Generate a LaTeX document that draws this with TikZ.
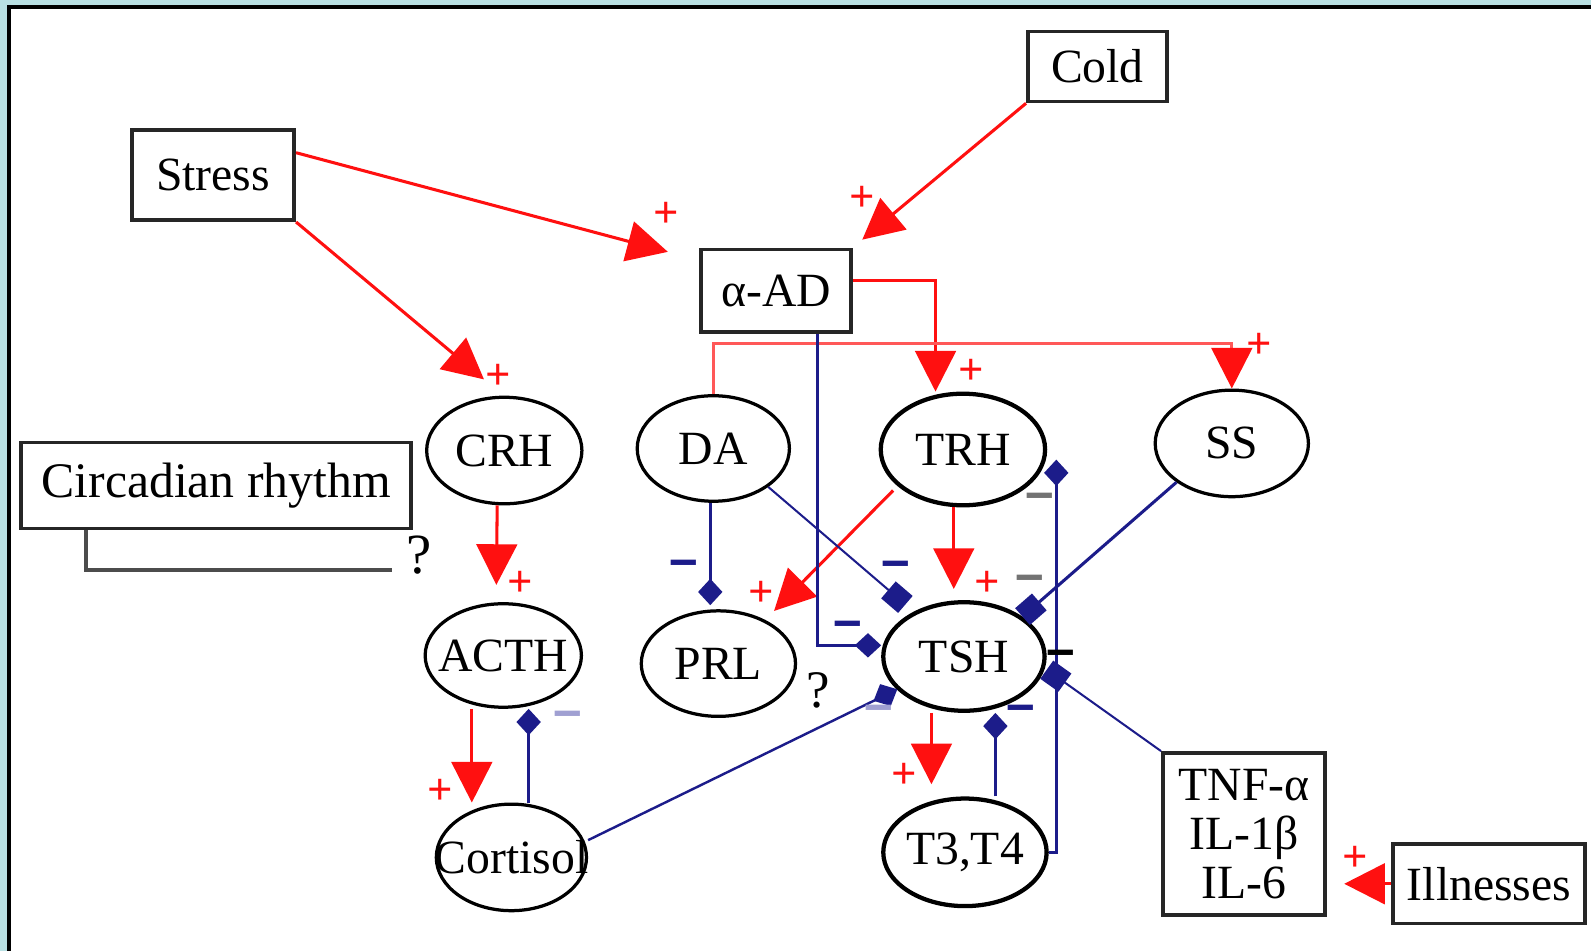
\documentclass[tikz,border=0pt]{standalone}
\usepackage{fontspec}
\setmainfont{Liberation Serif}
\usetikzlibrary{arrows.meta,shapes.geometric}
\definecolor{bgcyan}{RGB}{185,224,227}
\definecolor{inh}{RGB}{28,28,138}
\definecolor{act}{RGB}{255,16,16}
\definecolor{lav}{RGB}{160,160,210}
\newcommand{\ztext}[1]{\makebox[0pt]{#1}}
\newcommand{\fatdash}{\scalebox{1.1}[1.7]{–}}
\begin{document}
\begin{tikzpicture}[x=0.5pt,y=-0.5pt,
  lbl/.style={font=\fontsize{23.5}{24}\selectfont, inner sep=0pt},
  box/.style={lbl, draw=black!85, line width=1.8pt, rectangle},
  ell/.style={lbl, draw=black, line width=1.6pt, ellipse, inner sep=0pt},
  ellb/.style={ell, line width=2.1pt},
  actarrow/.style={draw=act, line width=1.5pt, -{Triangle[length=20pt,width=20pt,color=act]}},
  inhd/.style={draw=inh, line width=1.5pt, -{Diamond[length=13pt,width=12pt]}},
  inhs/.style={draw=inh, line width=1pt, -{Square[length=11pt,width=11pt]}},
  plus/.style={text=act, font=\fontsize{22}{22}\selectfont\bfseries, inner sep=0pt},
  minus/.style={text=inh, font=\fontsize{22}{22}\selectfont\bfseries, inner sep=0pt},
]
\useasboundingbox (0,0) rectangle (1568,937);
\fill[white] (0,0) rectangle (1568,937);
\fill[bgcyan] (0,0) rectangle (6.9,937);
\fill[bgcyan] (0,0) rectangle (1568,4.9);
\fill[black] (6.9,4.9) rectangle (10.8,937);
\fill[black] (6.9,4.9) rectangle (1568,8.9);

% boxes
\node[box, minimum width=68.5pt, minimum height=34.5pt] (Cold) at (1081.5,65.5) {Cold};
\node[box, minimum width=80pt, minimum height=44.5pt] (Stress) at (210,172.5) {Stress};
\node[box, minimum width=74pt, minimum height=40.5pt] (aAD) at (765,286.5) {α-AD};
\node[box, minimum width=192pt, minimum height=42.5pt, font=\fontsize{24.5}{26}\selectfont] (Circ) at (213,478.5) {Circadian rhythm};
\node[box, minimum width=80pt, minimum height=80pt, align=center] (TNF) at (1226,822) {TNF-α\\IL-1β\\IL-6};
\node[box, minimum width=94.5pt, minimum height=39pt] (Ill) at (1467.5,871) {Illnesses};

% ellipses
\node[ell, minimum width=76.5pt, minimum height=52.5pt] (CRH) at (497,444) {\ztext{CRH}};
\node[ell, minimum width=75pt, minimum height=52pt] (DA) at (703,442) {\ztext{DA}};
\node[ellb, minimum width=81pt, minimum height=55pt] (TRH) at (949,443) {\ztext{TRH}};
\node[ell, minimum width=75.5pt, minimum height=52.5pt] (SS) at (1214,437) {\ztext{SS}};
\node[ell, minimum width=77pt, minimum height=51pt] (ACTH) at (496,646) {\ztext{ACTH}};
\node[ell, minimum width=76pt, minimum height=52pt] (PRL) at (708,654) {\ztext{PRL}};
\node[ellb, minimum width=79.5pt, minimum height=53.5pt] (TSH) at (950,647) {\ztext{TSH}};
\node[ell, minimum width=74pt, minimum height=52.5pt] (Cortisol) at (504,845) {\ztext{Cortisol}};
\node[ellb, minimum width=80.5pt, minimum height=53pt] (T3T4) at (951,840) {\ztext{T3,T4}};

% bracket under circadian rhythm
\draw[draw=black!70, line width=2pt] ([xshift=33pt]Circ.south west) -- ++(0,-19.5pt) -- ++(150.5pt,0);

% activating connectors
\draw[actarrow] ([yshift=11pt]Stress.east) -- ([xshift=-15.5pt,yshift=-2pt]aAD.north west);
\draw[actarrow] (Stress.south east) -- ([xshift=-10pt,yshift=8pt]CRH.north);
\draw[actarrow] (Cold.south west) -- ([xshift=4.5pt,yshift=4pt]aAD.north east);
\draw[actarrow] ([yshift=5.25pt]aAD.east) -| ([xshift=-13.5pt]TRH.north);
\draw[actarrow, draw=act!70] (DA.north) -- ++(0,25pt) -| (SS.north);
\draw[actarrow, shorten >=8.5pt] ([xshift=-3.5pt]CRH.south) -- ([xshift=-3.5pt]ACTH.north);
\draw[actarrow] ([xshift=-15.5pt]ACTH.south) -- ([xshift=-19.5pt]Cortisol.north);
\draw[actarrow, shorten >=5.5pt] ([xshift=-4.5pt]TRH.south) -- ([xshift=-5pt]TSH.north);
\draw[actarrow] ([xshift=-5pt]TRH.south west) -- ([yshift=7pt]PRL.north east);
\draw[actarrow, shorten >=6pt] ([xshift=-16pt]TSH.south) -- ([xshift=-16.5pt]T3T4.north);
\draw[actarrow, shorten >=8.5pt] (Ill.west) -- (Ill.west -| TNF.east);

% inhibitory connectors
\draw[inhd] ([xshift=8.5pt]Cortisol.north) -- ([xshift=12.5pt]ACTH.south);
\draw[inhd, shorten >=2pt] ([xshift=-1.5pt]DA.south) -- ([xshift=-4pt]PRL.north);
\draw[inhs] (DA.south east) -- ([yshift=6pt]TSH.north west);
\draw[inhd] ([xshift=20.5pt]aAD.south) |- ([yshift=5.5pt]TSH.west);
\draw[inhs, line width=1.5pt] (SS.south west) -- (TSH.north east);
\draw[inhd] (T3T4.east) -| ([xshift=46pt,yshift=-5pt]TRH.center);
\draw[inhd] ([xshift=15pt]T3T4.north) -- ([xshift=15.5pt]TSH.south);
\draw[inhd, line width=1.2pt] ([yshift=8.5pt]Cortisol.east) -- ([xshift=-4pt,yshift=3.5pt]TSH.south west);
\draw[inhs] (TNF.north west) -- ([yshift=-6.5pt]TSH.east);

% question marks
\node[lbl, font=\fontsize{28}{28}\selectfont] (q1) at (413,547) {?};
\node[lbl, font=\fontsize{26}{26}\selectfont] (q2) at (806,680) {?};

% plus signs
\node[plus] (p1) at (657,212) {+};
\node[plus] (p2) at (491,371) {+};
\node[plus] (p3) at (850,196) {+};
\node[plus] (p4) at (957,367) {+};
\node[plus] (p5) at (1241,341) {+};
\node[plus] (p6) at (513,575) {+};
\node[plus] (p7) at (434,780) {+};
\node[plus] (p8) at (973,575) {+};
\node[plus] (p9) at (750,585) {+};
\node[plus] (p10) at (891,765) {+};
\node[plus] (p11) at (1336,846) {+};

% minus signs
\node[minus] (m1) at (674,562) {\fatdash};
\node[minus] (m2) at (883,563) {\fatdash};
\node[minus] (m3) at (836,622) {\fatdash};
\node[minus, text=black!55] (m4) at (1015,577) {\fatdash};
\node[minus, text=black!55] (m5) at (1025,496) {\fatdash};
\node[minus, text=lav] (m6) at (560,711) {\fatdash};
\node[minus] (m7) at (1006,705) {\fatdash};
\node[minus, text=lav] (m8) at (866,705) {\fatdash};
\node[minus, text=black] (m9) at (1045,651) {\fatdash};
\end{tikzpicture}
\end{document}
